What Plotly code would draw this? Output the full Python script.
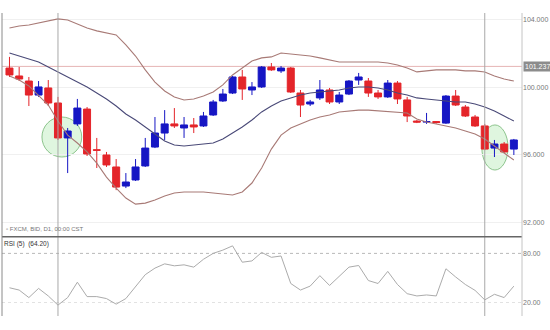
import plotly.graph_objects as go

# ---- data ----
opens = [101.14, 100.67, 100.37, 99.54, 99.96, 99.07, 97.00, 97.83, 98.71, 96.30,
         95.99, 95.28, 94.15, 94.51, 95.34, 96.46, 97.29, 97.83, 97.59, 97.77,
         97.71, 98.36, 99.19, 99.66, 100.61, 99.84, 100.02, 101.20, 100.97, 101.14,
         99.66, 99.01, 99.37, 99.84, 99.13, 99.60, 100.43, 100.37, 99.66, 99.43,
         100.25, 99.25, 98.00, 97.94, 97.97, 97.88, 99.48, 98.83, 98.24, 97.71,
         96.40, 96.64, 96.34]
closes = [100.73, 100.49, 99.54, 100.02, 99.07, 97.00, 97.41, 98.77, 96.05, 96.27,
          95.40, 94.09, 94.39, 95.28, 96.40, 97.29, 97.83, 97.71, 97.77, 97.65,
          98.30, 99.13, 99.60, 100.61, 99.90, 100.02, 101.20, 101.03, 101.14, 99.72,
          98.95, 99.13, 99.84, 99.13, 99.54, 100.37, 100.61, 99.66, 99.43, 100.25,
          99.31, 98.30, 97.94, 97.97, 97.91, 99.48, 98.95, 98.30, 97.71, 96.34,
          96.64, 96.17, 96.88]
highs = [101.80, 101.20, 100.61, 100.37, 100.43, 99.43, 97.59, 99.31, 98.83, 97.00,
         96.17, 95.75, 94.92, 95.75, 97.00, 98.24, 98.65, 98.77, 98.24, 98.18,
         98.54, 99.25, 99.90, 100.67, 101.03, 100.31, 101.26, 101.44, 101.26, 101.20,
         99.84, 99.25, 100.43, 99.96, 99.72, 100.43, 100.85, 100.55, 99.84, 100.43,
         100.37, 99.43, 98.06, 98.48, 98.00, 99.54, 99.84, 98.95, 98.36, 97.83,
         96.88, 96.76, 96.94]
lows = [100.61, 100.37, 98.89, 99.43, 98.89, 96.88, 94.92, 97.71, 95.93, 95.22,
        95.28, 93.91, 94.03, 94.45, 95.28, 96.40, 96.88, 97.59, 97.00, 97.29,
        97.65, 98.30, 99.13, 99.60, 99.25, 99.54, 99.96, 100.97, 100.85, 99.66,
        98.24, 98.89, 99.25, 99.01, 99.01, 99.54, 100.14, 99.43, 99.31, 99.37,
        99.01, 97.94, 97.88, 97.83, 97.85, 97.83, 98.89, 98.24, 97.65, 96.28,
        95.87, 96.11, 95.99]

bb_upper = [103.51, 103.63, 103.69, 103.81, 103.93, 104.05, 103.99, 103.75, 103.51, 103.34,
            103.22, 103.10, 102.51, 101.85, 101.03, 100.31, 99.78, 99.43, 99.25, 99.31,
            99.48, 99.72, 100.14, 100.73, 101.14, 101.56, 101.74, 101.80, 102.03, 101.97,
            101.91, 101.85, 101.74, 101.62, 101.50, 101.50, 101.50, 101.50, 101.50, 101.44,
            101.32, 101.14, 100.91, 100.97, 101.03, 101.03, 101.03, 100.97, 100.97, 100.91,
            100.67, 100.49, 100.37]
bb_middle = [102.03, 101.85, 101.68, 101.50, 101.20, 100.91, 100.61, 100.31, 100.02, 99.66,
             99.31, 98.89, 98.42, 98.06, 97.65, 97.23, 96.82, 96.58, 96.52, 96.58,
             96.64, 96.70, 96.94, 97.29, 97.65, 98.06, 98.54, 98.89, 99.19, 99.37,
             99.54, 99.66, 99.72, 99.78, 99.84, 99.96, 100.02, 100.02, 99.96, 99.84,
             99.66, 99.54, 99.37, 99.31, 99.25, 99.19, 99.13, 99.13, 99.01, 98.83,
             98.60, 98.30, 98.00]
bb_lower = [100.67, 100.43, 100.08, 99.54, 98.95, 98.00, 97.17, 96.70, 96.17, 95.51,
            94.68, 94.03, 93.44, 93.08, 93.14, 93.32, 93.56, 93.74, 93.80, 93.80,
            93.80, 93.74, 93.68, 93.62, 93.80, 94.33, 95.22, 96.34, 97.17, 97.59,
            97.83, 98.06, 98.24, 98.36, 98.54, 98.60, 98.65, 98.65, 98.60, 98.57,
            98.54, 98.48, 98.12, 97.94, 97.83, 97.71, 97.59, 97.41, 97.23, 96.94,
            96.52, 96.11, 95.69]

rsi = [38, 35.2, 26, 37.2, 28, 16.8, 26, 44.8, 27.2, 27.2,
       24.8, 18, 24.8, 39.2, 54, 62, 67.2, 64.8, 66, 63.2,
       72.8, 80, 84, 89.2, 69.2, 70.8, 81.2, 75.2, 76.8, 43.2,
       35.2, 40, 52.8, 40.8, 52, 63.2, 65.2, 46.8, 43.2, 58,
       42, 30.8, 28, 29.2, 28, 61.2, 51.2, 42, 34.8, 23.2,
       30, 26, 40]

price_ticks = [92, 96, 100, 104]
rsi_ticks = [20, 80]
last_price = 101.237
cursor_bars = [5, 49]
# highlighted zones: (x0, x1, y0, y1) in bar index / price
highlight_zones = [(3.35, 7.45, 95.87, 98.24), (48.7, 51.4, 95.10, 97.77)]

x = list(range(len(opens)))

RED = "#e4252a"
BLUE = "#1616c4"

fig = go.Figure()

fig.add_trace(go.Scatter(x=x, y=bb_upper, mode="lines", yaxis="y",
                         line=dict(color="#a87a76", width=1.1), hoverinfo="skip"))
fig.add_trace(go.Scatter(x=x, y=bb_lower, mode="lines", yaxis="y",
                         line=dict(color="#a87a76", width=1.1), hoverinfo="skip"))
fig.add_trace(go.Scatter(x=x, y=bb_middle, mode="lines", yaxis="y",
                         line=dict(color="#4a4a78", width=1.1), hoverinfo="skip"))

fig.add_trace(go.Candlestick(
    x=x, open=opens, high=highs, low=lows, close=closes, yaxis="y",
    increasing=dict(line=dict(color=BLUE, width=1), fillcolor=BLUE),
    decreasing=dict(line=dict(color=RED, width=1), fillcolor=RED),
    whiskerwidth=0,
))

fig.add_trace(go.Scatter(x=x, y=rsi, mode="lines", yaxis="y2",
                         line=dict(color="#ababab", width=1), hoverinfo="skip"))

MAIN_DOM = [0.2617, 1.0]
RSI_DOM = [0.0, 0.2607]

shapes = []
# last price line
shapes.append(dict(type="line", xref="paper", yref="y", x0=0, x1=1,
                   y0=last_price, y1=last_price,
                   line=dict(color="#e6b4b4", width=1), layer="below"))
# RSI reference levels
shapes.append(dict(type="line", xref="paper", yref="y2", x0=0, x1=1, y0=80, y1=80,
                   line=dict(color="#b8b8b8", width=1, dash="dot"), layer="below"))
shapes.append(dict(type="line", xref="paper", yref="y2", x0=0, x1=1, y0=20, y1=20,
                   line=dict(color="#e2e2e2", width=1, dash="dot"), layer="below"))
# highlight ellipses
for (x0, x1, y0, y1) in highlight_zones:
    shapes.append(dict(type="circle", xref="x", yref="y", x0=x0, x1=x1, y0=y0, y1=y1,
                       fillcolor="rgba(196,238,196,0.55)",
                       line=dict(color="rgba(130,190,130,0.9)", width=1), layer="below"))
# cursor verticals
for b in cursor_bars:
    shapes.append(dict(type="line", xref="x", yref="paper", x0=b, x1=b, y0=0, y1=1,
                       line=dict(color="#a8a8a8", width=1)))
# panel separator
shapes.append(dict(type="line", xref="paper", yref="paper", x0=0, x1=1,
                   y0=MAIN_DOM[0], y1=MAIN_DOM[0], line=dict(color="#666", width=1.5)))
# borders
shapes.append(dict(type="line", xref="paper", yref="paper", x0=0, x1=0, y0=0, y1=1,
                   line=dict(color="#8a8a8a", width=1)))
shapes.append(dict(type="line", xref="paper", yref="paper", x0=1, x1=1, y0=0, y1=1,
                   line=dict(color="#c4c4c4", width=1)))

annotations = [
    dict(xref="paper", yref="y", x=1, y=last_price, xanchor="left", yanchor="middle",
         xshift=1, text=f"{last_price:.3f}", showarrow=False,
         font=dict(size=7, color="white", family="Liberation Sans"),
         bgcolor="#8c8c8c", borderpad=1),
    dict(xref="paper", yref="paper", x=0, y=0.287, xanchor="left", yanchor="middle",
         xshift=2, text="▫ FXCM, BID, D1, 00:00 CST", showarrow=False,
         font=dict(size=6, color="#777", family="Liberation Sans")),
    dict(xref="paper", yref="paper", x=0, y=RSI_DOM[1], xanchor="left", yanchor="top",
         xshift=0, yshift=-1, text="RSI (5)  (64.20)", showarrow=False,
         font=dict(size=6.5, color="#333", family="Liberation Sans")),
]

fig.update_layout(
    width=550, height=330,
    margin=dict(l=2, r=28, t=13, b=14),
    paper_bgcolor="white", plot_bgcolor="white",
    showlegend=False,
    boxgap=0.28, boxgroupgap=0,
    font=dict(family="Liberation Sans", size=7, color="#666"),
    xaxis=dict(range=[-0.77, 52.84], anchor="y2", showticklabels=False,
               showgrid=False, zeroline=False, showline=False,
               rangeslider=dict(visible=False), fixedrange=True),
    yaxis=dict(domain=MAIN_DOM, range=[91.15, 104.40], side="right", anchor="x",
               tickvals=price_ticks, tickformat=".3f", ticks="",
               showgrid=True, gridcolor="#f0f0f0", zeroline=False,
               tickfont=dict(size=7, color="#777")),
    yaxis2=dict(domain=RSI_DOM, range=[3.5, 100], side="right", anchor="x",
                tickvals=rsi_ticks, tickformat=".2f", ticks="",
                showgrid=False, zeroline=False,
                tickfont=dict(size=7, color="#777")),
    shapes=shapes,
    annotations=annotations,
)

fig.write_html("out.html")
